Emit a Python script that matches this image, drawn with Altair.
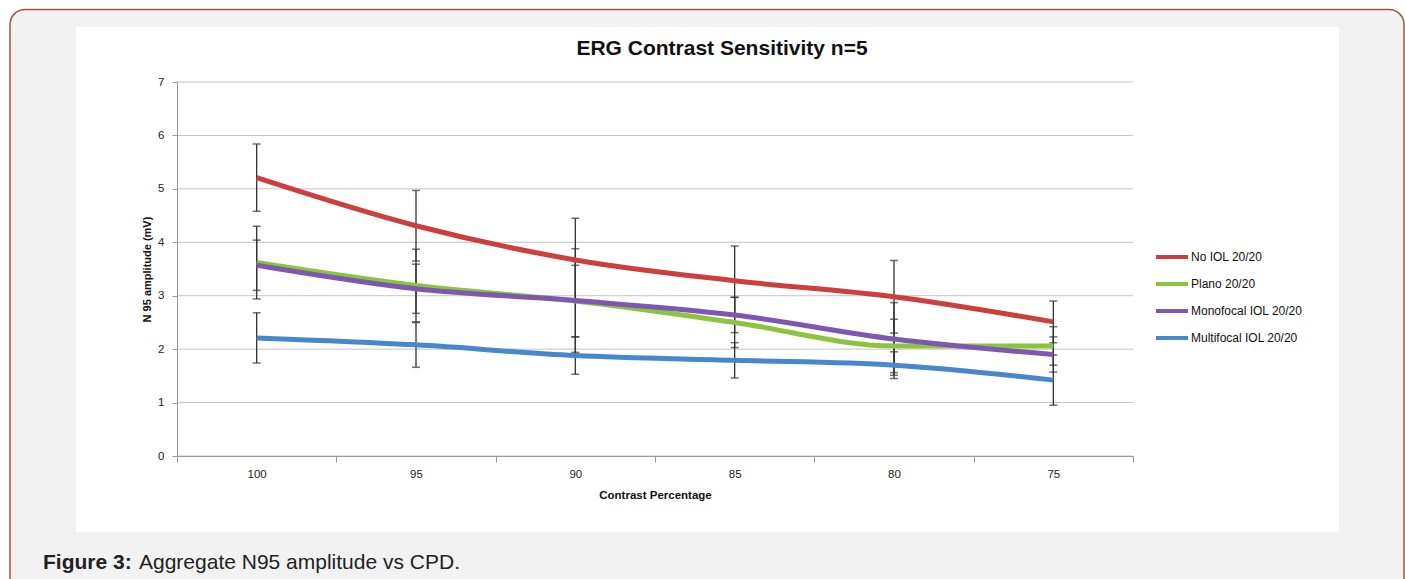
import altair as alt
import pandas as pd

# ---- data ----
contrast = ["100", "95", "90", "85", "80", "75"]
series = ["No IOL 20/20", "Plano 20/20", "Monofocal IOL 20/20", "Multifocal IOL 20/20"]
colors = ["#cc3f3c", "#8cc43f", "#7e58b0", "#4787cb"]

no_iol = [5.21, 4.31, 3.67, 3.28, 2.98, 2.51]
plano = [3.62, 3.19, 2.90, 2.50, 2.06, 2.06]
mono = [3.57, 3.13, 2.91, 2.64, 2.19, 1.90]
multi = [2.21, 2.08, 1.88, 1.79, 1.70, 1.42]

no_iol_err = [0.63, 0.66, 0.78, 0.65, 0.68, 0.39]
plano_err = [0.68, 0.68, 0.67, 0.47, 0.50, 0.36]
mono_err = [0.47, 0.46, 0.97, 0.33, 0.68, 0.33]
multi_err = [0.47, 0.42, 0.35, 0.33, 0.25, 0.47]

y_ticks = [0, 1, 2, 3, 4, 5, 6, 7]

rows = []
for name, vals, errs in zip(series, [no_iol, plano, mono, multi],
                            [no_iol_err, plano_err, mono_err, multi_err]):
    for c, v, e in zip(contrast, vals, errs):
        rows.append({"contrast": c, "series": name, "value": v,
                     "lo": round(v - e, 3), "hi": round(v + e, 3)})
df = pd.DataFrame(rows)
grid_df = pd.DataFrame({"g": y_ticks})
one = pd.DataFrame({"a": [0]})

W, H = 956, 374
L, T = 177, 82
FONT = "Liberation Sans"

x_axis = alt.Axis(title="Contrast Percentage", labelAngle=0, tickBand="extent",
                  tickSize=6, tickColor="#9a9a9a", domainColor="#9a9a9a",
                  labelFontSize=11.5, labelFont=FONT, labelColor="#222",
                  labelPadding=6, titleFontSize=11.5, titleFont=FONT,
                  titleFontWeight="bold", titleColor="#111", titlePadding=10,
                  grid=False, zindex=1)
y_axis = alt.Axis(title="N 95 amplitude (mV)", values=y_ticks, tickSize=5,
                  tickColor="#9a9a9a", domainColor="#9a9a9a", labelFontSize=11.5,
                  labelFont=FONT, labelColor="#222", labelPadding=8,
                  titleFontSize=11, titleFont=FONT, titleFontWeight="bold",
                  titleColor="#111", titlePadding=5, grid=False, zindex=1)

x_scale = alt.Scale(type="band", paddingInner=0, paddingOuter=0, domain=contrast)
y_scale = alt.Scale(domain=[0, 7], nice=False)


def X():
    return alt.X("contrast:N", sort=contrast, scale=x_scale, axis=x_axis)


def Y(field):
    return alt.Y(field, type="quantitative", scale=y_scale, axis=y_axis)


outer = alt.Chart(one).mark_rect(
    fill="#f2f2f2", stroke="#a0583f", strokeWidth=1.5, cornerRadius=15
).encode(x=alt.value(10 - L), x2=alt.value(1404 - L),
         y=alt.value(9.5 - T), y2=alt.value(620 - T))

panel = alt.Chart(one).mark_rect(fill="white").encode(
    x=alt.value(76 - L), x2=alt.value(1339 - L),
    y=alt.value(27 - T), y2=alt.value(532 - T))

grid = alt.Chart(grid_df).mark_rule(color="#c4c4c4", strokeWidth=1).encode(
    y=Y("g"))

err = alt.Chart(df).mark_rule(color="#333333", strokeWidth=1.3).encode(
    x=X(), y=Y("lo"), y2="hi")
cap_lo = alt.Chart(df).mark_tick(color="#333333", size=8, thickness=1.5).encode(
    x=X(), y=Y("lo"))
cap_hi = alt.Chart(df).mark_tick(color="#333333", size=8, thickness=1.5).encode(
    x=X(), y=Y("hi"))

lines = alt.Chart(df).mark_line(strokeWidth=5, interpolate="monotone").encode(
    x=X(), y=Y("value"),
    color=alt.Color("series:N", sort=series,
                    scale=alt.Scale(domain=series, range=colors),
                    legend=alt.Legend(title=None, orient="none",
                                      legendX=977, legendY=157,
                                      symbolType="stroke", symbolStrokeWidth=4,
                                      symbolSize=1024, labelFontSize=12,
                                      labelFont=FONT, labelColor="#111",
                                      labelOffset=1, rowPadding=1)),
    order=alt.Order("series:N"))

title = alt.Chart(one).mark_text(
    text="ERG Contrast Sensitivity n=5", font=FONT, fontSize=21,
    fontWeight="bold", color="#111", align="center", baseline="alphabetic"
).encode(x=alt.value(722 - L), y=alt.value(55 - T))

cap_bold = alt.Chart(one).mark_text(
    text="Figure 3:", font=FONT, fontSize=21, fontWeight="bold",
    color="#222", align="left", baseline="alphabetic"
).encode(x=alt.value(43 - L), y=alt.value(569 - T))
cap_rest = alt.Chart(one).mark_text(
    text="Aggregate N95 amplitude vs CPD.", font=FONT, fontSize=21,
    color="#222", align="left", baseline="alphabetic"
).encode(x=alt.value(139 - L), y=alt.value(569 - T))

chart = alt.layer(
    outer, panel, grid, err, cap_lo, cap_hi, lines, title, cap_bold, cap_rest
).properties(
    width=W, height=H,
    autosize=alt.AutoSizeParams(type="none"),
    padding={"left": L, "top": T, "right": 1405 - L - W, "bottom": 579 - T - H},
    background="white",
).configure_view(stroke=None)

chart.save("out.html", embed_options={"renderer": "svg", "actions": False})
